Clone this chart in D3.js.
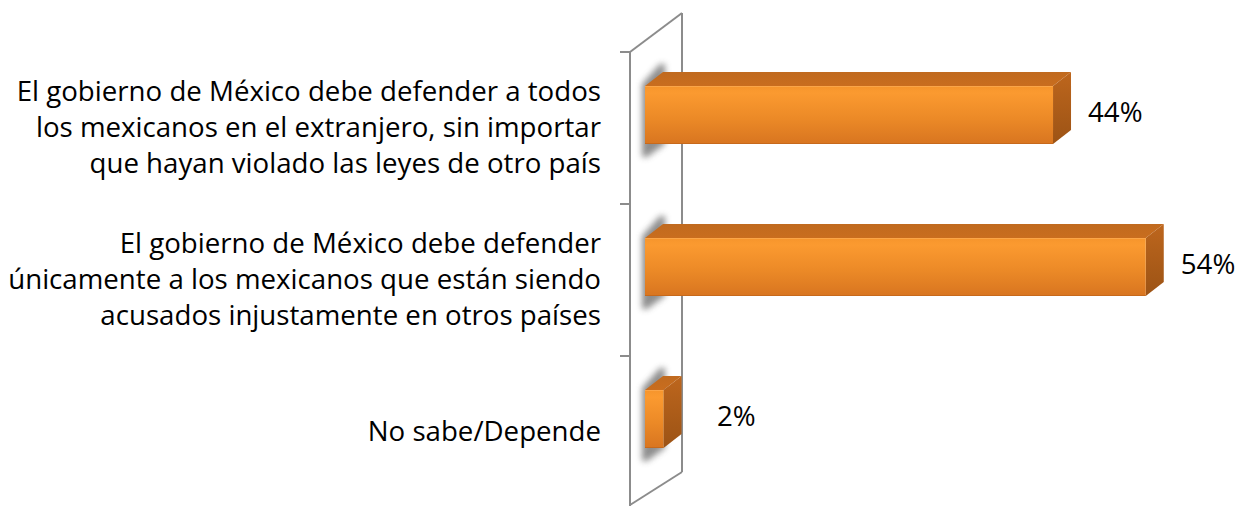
<!DOCTYPE html>
<html>
<head>
<meta charset="utf-8">
<script src="https://cdn.jsdelivr.net/npm/d3@7"></script>
<style>
  html, body { margin: 0; padding: 0; background: #fff; }
  svg { display: block; }
  text { font-family: "Open Sans", "Noto Sans", sans-serif; fill: #000; }
</style>
</head>
<body>
<svg id="chart" width="1237" height="506"></svg>
<script>
// ---- data ----
const categories = [
  "El gobierno de México debe defender a todos\nlos mexicanos en el extranjero, sin importar\nque hayan violado las leyes de otro país",
  "El gobierno de México debe defender\núnicamente a los mexicanos que están siendo\nacusados injustamente en otros países",
  "No sabe/Depende"
];
const values = [44, 54, 2];
const valueLabels = ["44%", "54%", "2%"];

// ---- layout ----
const W = 1237, H = 506;
const svg = d3.select("#chart");
const defs = svg.append("defs");

const y = d3.scaleBand().domain(categories).range([52, 508]).paddingInner(0).paddingOuter(0);
const x = d3.scaleLinear().domain([0, 60]).range([645, 645 + 556.4]);

const depthX = 18, depthY = -14;     // bar depth offset
const barH = 58;                     // front face height
const barOffset = -13;               // front-face centre relative to band centre

// gradients
const gFront = defs.append("linearGradient").attr("id", "gFront").attr("x1", 0).attr("y1", 0).attr("x2", 0).attr("y2", 1);
gFront.append("stop").attr("offset", "0%").attr("stop-color", "#f6952c");
gFront.append("stop").attr("offset", "12%").attr("stop-color", "#fb9a30");
gFront.append("stop").attr("offset", "55%").attr("stop-color", "#ec8a27");
gFront.append("stop").attr("offset", "100%").attr("stop-color", "#d87520");

const gRight = defs.append("linearGradient").attr("id", "gRight").attr("x1", 0).attr("y1", 0).attr("x2", 0).attr("y2", 1);
gRight.append("stop").attr("offset", "0%").attr("stop-color", "#bd661d");
gRight.append("stop").attr("offset", "100%").attr("stop-color", "#9c5315");

const gTop = defs.append("linearGradient").attr("id", "gTop").attr("x1", 0).attr("y1", 1).attr("x2", 0).attr("y2", 0);
gTop.append("stop").attr("offset", "0%").attr("stop-color", "#c96d1e");
gTop.append("stop").attr("offset", "100%").attr("stop-color", "#c06a1f");

const blur = defs.append("filter").attr("id", "blur").attr("x", "-50%").attr("y", "-50%").attr("width", "200%").attr("height", "200%");
blur.append("feGaussianBlur").attr("stdDeviation", 3);

// ---- wall (value axis plane) ----
const wallFrontX = 630, wallBackX = 682;
const wall = svg.append("g").attr("stroke", "#8c8c8c").attr("stroke-width", 2).attr("fill", "none");
wall.append("line").attr("x1", wallFrontX).attr("y1", y.range()[0]).attr("x2", wallFrontX).attr("y2", H + 5);
wall.append("line").attr("x1", wallBackX).attr("y1", y.range()[0] - 39).attr("x2", wallBackX).attr("y2", y.range()[1] - 36);
wall.append("line").attr("x1", wallFrontX).attr("y1", y.range()[0]).attr("x2", wallBackX).attr("y2", y.range()[0] - 39);
wall.append("line").attr("x1", wallFrontX).attr("y1", y.range()[1] - 3).attr("x2", wallBackX).attr("y2", y.range()[1] - 36);
// category ticks
const tickPos = categories.map(c => y(c)).concat([y.range()[1]]);
wall.selectAll("line.tick").data(tickPos).enter().append("line").attr("class", "tick")
  .attr("x1", wallFrontX - 10).attr("x2", wallFrontX).attr("y1", d => d).attr("y2", d => d);

// ---- bars ----
const bars = svg.append("g");
categories.forEach((c, i) => {
  const cy = y(c) + y.bandwidth() / 2 + barOffset;
  const yt = cy - barH / 2, yb = cy + barH / 2;
  const x0 = x(0), x1 = x(values[i]);
  const g = bars.append("g");
  // shadow on the wall
  g.append("path")
    .attr("d", `M${x0 - 3},${yt - 2} L${x0 + depthX - 3},${yt + depthY - 8} L${x0 + depthX + 2},${yt + depthY - 8} L${x0 + depthX + 2},${yb} L${x0 + 2},${yb + 13} L${x0 - 3},${yb + 13} Z`)
    .attr("fill", "#7a7a7a").attr("opacity", 0.85).attr("filter", "url(#blur)");
  // top face
  g.append("path")
    .attr("d", `M${x0},${yt} L${x1},${yt} L${x1 + depthX},${yt + depthY} L${x0 + depthX},${yt + depthY} Z`)
    .attr("fill", "url(#gTop)");
  // right face
  g.append("path")
    .attr("d", `M${x1},${yt} L${x1 + depthX},${yt + depthY} L${x1 + depthX},${yb + depthY} L${x1},${yb} Z`)
    .attr("fill", "url(#gRight)");
  // front face
  g.append("rect").attr("x", x0).attr("y", yt).attr("width", x1 - x0).attr("height", barH)
    .attr("fill", "url(#gFront)");
  // subtle edges
  g.append("line").attr("x1", x0).attr("x2", x1).attr("y1", yt + 0.5).attr("y2", yt + 0.5)
    .attr("stroke", "#ffb05a").attr("stroke-width", 1).attr("opacity", 0.6);
  g.append("line").attr("x1", x0).attr("x2", x1).attr("y1", yb - 0.5).attr("y2", yb - 0.5)
    .attr("stroke", "#c0641a").attr("stroke-width", 1).attr("opacity", 0.7);
});

// ---- category labels ----
const fontSize = 26;
const lineH = 36;
const labels = svg.append("g").attr("font-size", fontSize).attr("text-anchor", "end");
categories.forEach(c => {
  const lines = c.split("\n");
  const cy = y(c) + y.bandwidth() / 2;
  const t = labels.append("text").attr("x", 601);
  lines.forEach((ln, j) => {
    t.append("tspan").attr("x", 601)
      .attr("y", cy + 9 + (j - (lines.length - 1) / 2) * lineH)
      .text(ln);
  });
});
// fit widest line to the reference width
let maxW = 0;
labels.selectAll("tspan").each(function () { maxW = Math.max(maxW, this.getComputedTextLength()); });
const fs = fontSize * 593 / maxW;
labels.attr("font-size", fs);

// ---- value labels ----
const vl = svg.append("g").attr("font-size", fs);
categories.forEach((c, i) => {
  const cy = y(c) + y.bandwidth() / 2 + barOffset;
  const xe = Math.max(x(values[i]) + depthX + 17, wallBackX + 35);
  vl.append("text").attr("x", xe).attr("y", cy + depthY / 2 + 10 + 4).text(valueLabels[i]);
});
</script>
</body>
</html>
